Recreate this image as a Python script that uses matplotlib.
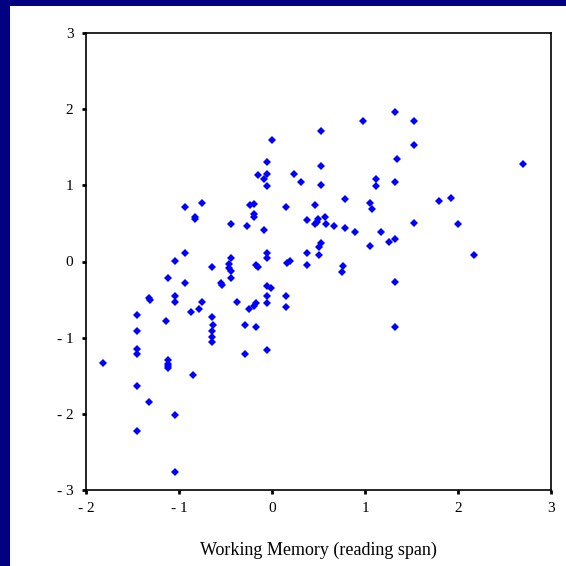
import matplotlib
matplotlib.use("Agg")
import matplotlib.pyplot as plt
from matplotlib.patches import Rectangle

# reading span (z) vs. outcome score (z)
span = [
    -0.94, -0.75, -0.83, -0.83, -0.44, -0.27, -0.24, -0.19, -0.19, -0.19,
    -0.15, -0.94, -1.04, -0.44, -0.46, -0.46, -0.65, -0.44, -0.17, -0.15,
    -1.12, -0.94, -0.44, -0.55, -0.54, -1.32, -1.31, -1.04, -1.04, -0.75,
    -0.87, -0.78, -0.38, -0.25, -0.17, -0.19, -1.45, -1.14, -0.65, -0.63,
    -0.65, -0.65, -0.65, -0.29, -0.17, -1.45, -1.45, -1.45, -1.82, -1.12,
    -1.12, -1.12, -1.12, -0.85, -0.29, -0.05, -1.45, -1.32, -1.04, -1.45,
    -1.04,
    1.32, 0.98, 0.53, 0.00, 1.34, -0.05, 0.53, -0.05, -0.09, -0.05,
    0.24, 0.31, 0.53, 1.12, 1.12, 1.32, 0.79, 0.15, 0.46, 1.05,
    1.07, -0.09, 0.38, 0.46, 0.49, 0.48, 0.57, 0.58, 0.67, 0.79,
    0.89, 1.17, 1.05, 1.26, 1.32, 0.50, 0.53, -0.05, -0.05, 0.38,
    0.50, 0.16, 0.19, 0.38, 0.76, 0.75, -0.05, -0.01, -0.05, 0.15,
    -0.05, 0.15,
    1.53, 1.53, 2.70, 1.80, 1.92, 1.53, 2.00, 2.17, 1.32, 1.32,
]
score = [
    0.71, 0.77, 0.58, 0.56, 0.49, 0.46, 0.74, 0.76, 0.62, 0.58,
    1.13, 0.11, 0.01, 0.04, -0.03, -0.08, -0.07, -0.12, -0.04, -0.07,
    -0.22, -0.28, -0.22, -0.28, -0.31, -0.48, -0.51, -0.45, -0.53, -0.53,
    -0.66, -0.63, -0.53, -0.63, -0.54, -0.59, -0.70, -0.78, -0.73, -0.83,
    -0.91, -0.99, -1.06, -0.83, -0.86, -0.91, -1.15, -1.21, -1.33, -1.29,
    -1.34, -1.37, -1.40, -1.49, -1.21, -1.16, -1.64, -1.85, -2.02, -2.23,
    -2.76,
    1.96, 1.85, 1.71, 1.60, 1.35, 1.30, 1.25, 1.15, 1.08, 0.99,
    1.15, 1.05, 1.00, 1.08, 0.99, 1.05, 0.82, 0.72, 0.74, 0.77,
    0.69, 0.41, 0.55, 0.49, 0.56, 0.52, 0.58, 0.49, 0.46, 0.44,
    0.39, 0.39, 0.21, 0.26, 0.29, 0.19, 0.24, 0.11, 0.04, 0.11,
    0.09, -0.02, 0.01, -0.04, -0.06, -0.14, -0.32, -0.35, -0.45, -0.45,
    -0.55, -0.60,
    1.85, 1.53, 1.28, 0.79, 0.84, 0.51, 0.49, 0.09, -0.27, -0.86,
]
xticks = [-2, -1, 0, 1, 2, 3]
yticks = [-3, -2, -1, 0, 1, 2, 3]

serif = ['Liberation Serif', 'DejaVu Serif']

fig = plt.figure(figsize=(5.66, 5.66), dpi=100)
fig.patch.set_facecolor('white')

# navy frame strips on the top and left edge
fig.patches.append(Rectangle((0, 1 - 6 / 566), 1, 6 / 566, transform=fig.transFigure,
                             facecolor='#000080', edgecolor='none', zorder=0))
fig.patches.append(Rectangle((0, 0), 10 / 566, 1, transform=fig.transFigure,
                             facecolor='#000080', edgecolor='none', zorder=0))

ax = fig.add_axes([86 / 566, 1 - 490 / 566, 465 / 566, 457 / 566])
ax.plot(span, score, linestyle='none', marker='D', markersize=4.5,
        color='#0000ff', markeredgewidth=0)

ax.set_xlim(-2, 3)
ax.set_ylim(-3, 3)
ax.set_xticks(xticks)
ax.set_yticks(yticks)
ax.set_xticklabels([str(t).replace('-', '- ') for t in xticks], family=serif, fontsize=11)
ax.set_yticklabels([str(t).replace('-', '- ') for t in yticks], family=serif, fontsize=11)
ax.tick_params(direction='out', length=3, width=2, color='black', pad=6)
for s in ax.spines.values():
    s.set_linewidth(1.2)
    s.set_color('black')

ax.set_xlabel('Working Memory (reading span)', family=serif, fontsize=13, labelpad=19)

fig.savefig('out.png', dpi=100, facecolor='white')
